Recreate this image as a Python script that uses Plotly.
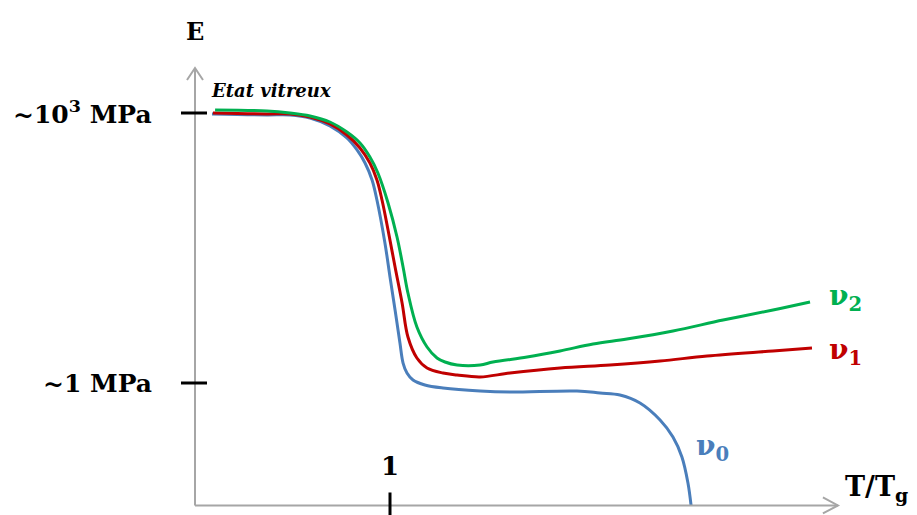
import plotly.graph_objects as go

# ---- data (x = T/Tg, y = log10(E / MPa)) ----
nu0_x = [0.087, 0.369, 0.487, 0.590, 0.692, 0.779, 0.831, 0.872, 0.908, 0.933, 0.974, 1.000,
         1.026, 1.051, 1.067, 1.087, 1.118, 1.179, 1.272, 1.462, 1.615, 1.959, 2.077, 2.179,
         2.282, 2.385, 2.451, 2.497, 2.528, 2.544]
nu0_y = [2.989, 2.978, 2.978, 2.944, 2.856, 2.722, 2.589, 2.444, 2.256, 2.033, 1.556, 1.178,
         0.811, 0.444, 0.222, 0.111, 0.033, -0.022, -0.056, -0.089, -0.100, -0.089, -0.111,
         -0.133, -0.222, -0.411, -0.600, -0.822, -1.111, -1.361]

nu1_x = [0.092, 0.369, 0.487, 0.590, 0.692, 0.779, 0.846, 0.897, 0.933, 0.959, 0.990, 1.026,
         1.062, 1.092, 1.138, 1.190, 1.272, 1.344, 1.462, 1.615, 1.872, 2.128, 2.385, 2.626,
         2.964, 3.164]
nu1_y = [3.000, 2.989, 2.989, 2.956, 2.878, 2.756, 2.611, 2.444, 2.256, 2.033, 1.700, 1.289,
         0.889, 0.511, 0.278, 0.167, 0.111, 0.089, 0.067, 0.111, 0.167, 0.200, 0.244, 0.300,
         0.356, 0.389]

nu2_x = [0.103, 0.369, 0.487, 0.590, 0.692, 0.779, 0.846, 0.897, 0.938, 0.990, 1.036, 1.067,
         1.092, 1.138, 1.190, 1.241, 1.282, 1.344, 1.462, 1.528, 1.703, 1.872, 2.041, 2.215,
         2.451, 2.708, 2.964, 3.154]
nu2_y = [3.033, 3.022, 3.000, 2.967, 2.900, 2.789, 2.667, 2.511, 2.333, 2.000, 1.622, 1.289,
         1.000, 0.622, 0.400, 0.278, 0.233, 0.200, 0.200, 0.233, 0.289, 0.356, 0.433, 0.489,
         0.578, 0.700, 0.811, 0.900]

y_tick_vals = [3, 0]
y_tick_labels = ["~10<sup>3</sup> MPa", "~1 MPa"]
x_tick_vals = [1]
x_tick_labels = ["1"]

series = [
    ("ν<sub>0</sub>", nu0_x, nu0_y, "#4A7EBB"),
    ("ν<sub>1</sub>", nu1_x, nu1_y, "#C00000"),
    ("ν<sub>2</sub>", nu2_x, nu2_y, "#00B050"),
]

OFF = 8                      # default page body margin
W, H = 917 - OFF, 515 - OFF
X0, Y0 = 195 - OFF, 383 - OFF  # pixel of data origin inside the figure
SX, SY = 195, 90               # pixels per data unit
X_RANGE = [-X0 / SX, (W - X0) / SX]
Y_RANGE = [(Y0 - H) / SY, Y0 / SY]
AX_Y = -1.361     # horizontal axis level
Y_TOP = 3.5       # top of vertical axis
X_END = 3.297     # end of horizontal axis

fig = go.Figure()
for name, xs, ys, col in series:
    fig.add_trace(go.Scatter(x=xs, y=ys, mode="lines", name=name,
                             line=dict(color=col, width=3, shape="spline", smoothing=1.0),
                             showlegend=False, hoverinfo="skip"))

gray = "#A6A6A6"
shapes = []
shapes.append(dict(type="line", x0=0, y0=AX_Y, x1=0, y1=Y_TOP, line=dict(color=gray, width=2)))
shapes.append(dict(type="line", x0=0, y0=AX_Y, x1=X_END, y1=AX_Y, line=dict(color=gray, width=2)))
dx, dy = 8 / SX, 12 / SY
shapes.append(dict(type="path", path=f"M {-dx} {Y_TOP-dy} L 0 {Y_TOP} L {dx} {Y_TOP-dy}",
                   line=dict(color=gray, width=2)))
dx2, dy2 = 15 / SX, 8 / SY
shapes.append(dict(type="path", path=f"M {X_END-dx2} {AX_Y+dy2} L {X_END} {AX_Y} L {X_END-dx2} {AX_Y-dy2}",
                   line=dict(color=gray, width=2)))
for v in y_tick_vals:
    shapes.append(dict(type="line", x0=-14 / SX, x1=12 / SX, y0=v, y1=v,
                       line=dict(color="black", width=3)))
for v in x_tick_vals:
    shapes.append(dict(type="line", x0=v, x1=v, y0=AX_Y + 13 / SY, y1=Y_RANGE[0],
                       line=dict(color="black", width=3)))

font = "DejaVu Serif"
ann = []
def px(xp, yp, text, size, color="black", xanchor="left", yanchor="middle", italic=False):
    t = f"<b>{text}</b>"
    if italic:
        t = f"<i>{t}</i>"
    ann.append(dict(x=(xp - OFF) / W, y=1 - (yp - OFF) / H, xref="paper", yref="paper", text=t,
                    showarrow=False, xanchor=xanchor, yanchor=yanchor,
                    font=dict(family=font, size=size, color=color)))

px(195, 31, "E", 24, xanchor="center")
for v, lab in zip(y_tick_vals, y_tick_labels):
    px(154, 383 - SY * v, lab, 25, xanchor="right")
for v, lab in zip(x_tick_vals, x_tick_labels):
    px(195 + SX * v, 466, lab, 26, xanchor="center")
px(843, 488, "T/T<sub>g</sub>", 27)
px(209, 91, "Etat vitreux", 18, italic=True)
px(827, 297, series[2][0], 28, color=series[2][3])
px(827, 351, series[1][0], 28, color=series[1][3])
px(694, 447, series[0][0], 28, color=series[0][3])

fig.update_layout(
    width=W, height=H, autosize=False,
    margin=dict(l=0, r=0, t=0, b=0),
    paper_bgcolor="white", plot_bgcolor="white",
    xaxis=dict(range=X_RANGE, visible=False, fixedrange=True),
    yaxis=dict(range=Y_RANGE, visible=False, fixedrange=True),
    shapes=shapes, annotations=ann,
)
fig.write_html("out.html")
